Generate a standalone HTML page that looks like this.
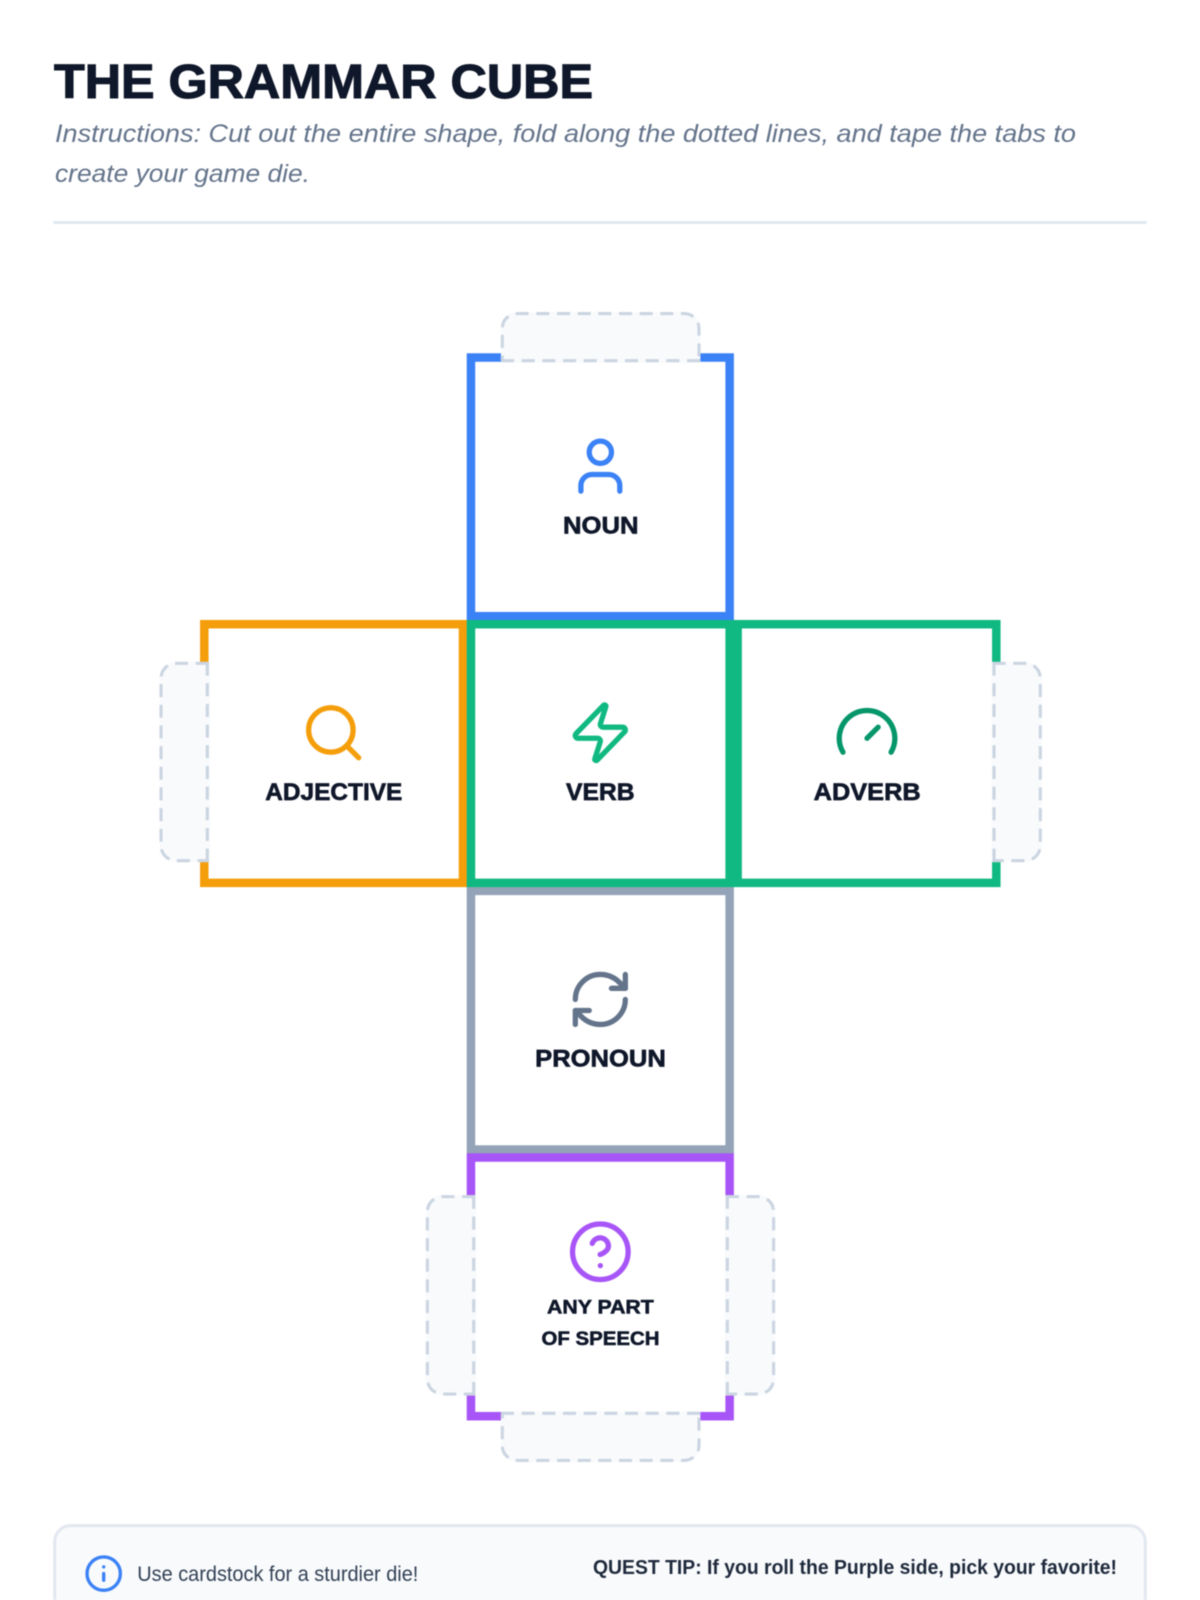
<!DOCTYPE html>
<html lang="en">
<head>
<meta charset="utf-8">
<title>The Grammar Cube</title>
<style>
html,body{margin:0;padding:0;width:1200px;height:1600px;overflow:hidden;background:#fff}
svg{display:block;filter:blur(.45px)}
text{font-family:"Liberation Sans",sans-serif}
.t{font-weight:700;fill:#0f172a;font-size:24px;stroke:#0f172a;stroke-width:.65px}
.s{font-weight:700;fill:#0f172a;font-size:19.5px;stroke:#0f172a;stroke-width:.55px}
.sub{font-style:italic;fill:#64748b;font-size:25px}
.ic{fill:none;stroke-width:1.9;stroke-linecap:round;stroke-linejoin:round}
.bg{fill:#f8fafc;stroke:#f8fafc;stroke-width:2.67}
.d{fill:none;stroke:#cbd5e1;stroke-width:3.1;stroke-dasharray:13 7.67}
</style>
</head>
<body>
<svg width="1200" height="1600" viewBox="0 0 1200 1600" xmlns="http://www.w3.org/2000/svg">
<rect width="1200" height="1600" fill="#fff"/>

<text x="54" y="98" font-size="48" font-weight="700" fill="#0f172a" stroke="#0f172a" stroke-width="1.1" textLength="539" lengthAdjust="spacingAndGlyphs">THE GRAMMAR CUBE</text>
<text class="sub" x="55" y="142" textLength="1021" lengthAdjust="spacingAndGlyphs">Instructions: Cut out the entire shape, fold along the dotted lines, and tape the tabs to</text>
<text class="sub" x="55" y="182" textLength="255" lengthAdjust="spacingAndGlyphs">create your game die.</text>
<rect x="53.33" y="221" width="1093.34" height="3" fill="#e2e8f0"/>

<!-- faces -->
<g stroke-width="8.5" fill="#fff" transform="translate(.3,.2)">
<rect x="470.67" y="357.33" width="258.67" height="258.67" stroke="#3b82f6"/>
<rect x="204" y="624" width="258.67" height="258.67" stroke="#f59e0b"/>
<rect x="470.67" y="890.67" width="258.67" height="258.67" stroke="#94a3b8"/>
<rect x="470.67" y="624" width="258.67" height="258.67" stroke="#10b981"/>
<rect x="737.33" y="624" width="258.67" height="258.67" stroke="#10b981"/>
<rect x="470.67" y="1157.33" width="258.67" height="258.67" stroke="#a855f7"/>
</g>

<!-- top tab -->
<g>
<path class="bg" d="M502.3 361.3 V328.3 A14.7 14.7 0 0 1 517 313.6 H684.3 A14.7 14.7 0 0 1 699 328.3 V361.3 Z"/>
<path class="d" style="stroke-dashoffset:-12.8" d="M502.3 360.7 V328.3 A14.7 14.7 0 0 1 517 313.6 H684.3 A14.7 14.7 0 0 1 699 328.3 V360.7"/>
<path class="d" d="M501 360.7 H700.3"/>
</g>
<!-- bottom tab -->
<g transform="translate(0,1774) scale(1,-1)">
<path class="bg" d="M502.3 361.3 V328.3 A14.7 14.7 0 0 1 517 313.6 H684.3 A14.7 14.7 0 0 1 699 328.3 V361.3 Z"/>
<path class="d" style="stroke-dashoffset:-12.8" d="M502.3 360.7 V328.3 A14.7 14.7 0 0 1 517 313.6 H684.3 A14.7 14.7 0 0 1 699 328.3 V360.7"/>
<path class="d" d="M501 360.7 H700.3"/>
</g>
<!-- side tabs -->
<g>
<path class="bg" d="M208.7 663.3 H176 A15 15 0 0 0 161 678.3 V845.7 A15 15 0 0 0 176 860.7 H208.7 Z"/>
<path class="d" d="M208.7 663.3 H176 A15 15 0 0 0 161 678.3 V845.7 A15 15 0 0 0 176 860.7 H208.7"/>
<path class="d" d="M207.3 662.6 V861.5"/>
</g>
<g transform="translate(1201.3,0) scale(-1,1)">
<path class="bg" d="M208.7 663.3 H176 A15 15 0 0 0 161 678.3 V845.7 A15 15 0 0 0 176 860.7 H208.7 Z"/>
<path class="d" d="M208.7 663.3 H176 A15 15 0 0 0 161 678.3 V845.7 A15 15 0 0 0 176 860.7 H208.7"/>
<path class="d" d="M207.3 662.6 V861.5"/>
</g>
<g transform="translate(266.37,533.33)">
<path class="bg" d="M208.7 663.3 H176 A15 15 0 0 0 161 678.3 V845.7 A15 15 0 0 0 176 860.7 H208.7 Z"/>
<path class="d" d="M208.7 663.3 H176 A15 15 0 0 0 161 678.3 V845.7 A15 15 0 0 0 176 860.7 H208.7"/>
<path class="d" d="M207.3 662.6 V861.5"/>
</g>
<g transform="translate(934.63,533.33) scale(-1,1)">
<path class="bg" d="M208.7 663.3 H176 A15 15 0 0 0 161 678.3 V845.7 A15 15 0 0 0 176 860.7 H208.7 Z"/>
<path class="d" d="M208.7 663.3 H176 A15 15 0 0 0 161 678.3 V845.7 A15 15 0 0 0 176 860.7 H208.7"/>
<path class="d" d="M207.3 662.6 V861.5"/>
</g>

<!-- icons -->
<g class="ic" stroke="#3b82f6" transform="translate(567,432.8) scale(2.778)">
<path d="M19 21v-2a4 4 0 0 0-4-4H9a4 4 0 0 0-4 4v2"/><circle cx="12" cy="7" r="4"/>
</g>
<g class="ic" stroke="#f59e0b" transform="translate(300.3,699.4) scale(2.778)">
<circle cx="11" cy="11" r="8"/><path d="m21 21-4.3-4.3"/>
</g>
<g class="ic" stroke="#10b981" transform="translate(567,699.4) scale(2.778)">
<path d="M4 14a1 1 0 0 1-.78-1.63l9.9-10.2a.5.5 0 0 1 .86.46l-1.92 6.02A1 1 0 0 0 13 10h7a1 1 0 0 1 .78 1.63l-9.9 10.2a.5.5 0 0 1-.86-.46l1.92-6.02A1 1 0 0 0 11 14z"/>
</g>
<g class="ic" stroke="#059669" transform="translate(833.7,699.4) scale(2.778)">
<path d="m12 14 4-4"/><path d="M3.34 19a10 10 0 1 1 17.32 0"/>
</g>
<g class="ic" stroke="#64748b" transform="translate(567,966.1) scale(2.778)">
<path d="M3 12a9 9 0 0 1 9-9 9.75 9.75 0 0 1 6.74 2.74L21 8"/><path d="M21 3v5h-5"/><path d="M21 12a9 9 0 0 1-9 9 9.75 9.75 0 0 1-6.74-2.74L3 16"/><path d="M8 16H3v5"/>
</g>
<g class="ic" stroke="#a855f7" transform="translate(567,1218.4) scale(2.778)">
<circle cx="12" cy="12" r="10"/><path d="M9.09 9a3 3 0 0 1 5.83 1c0 2-3 3-3 3"/><path d="M12 17h.01"/>
</g>

<!-- labels -->
<text class="t" x="563" y="533.3" textLength="75.5" lengthAdjust="spacingAndGlyphs">NOUN</text>
<text class="t" x="265.3" y="800" textLength="137" lengthAdjust="spacingAndGlyphs">ADJECTIVE</text>
<text class="t" x="566" y="800" textLength="68.6" lengthAdjust="spacingAndGlyphs">VERB</text>
<text class="t" x="813.7" y="800" textLength="107" lengthAdjust="spacingAndGlyphs">ADVERB</text>
<text class="t" x="535.2" y="1066.7" textLength="130.6" lengthAdjust="spacingAndGlyphs">PRONOUN</text>
<text class="s" x="547" y="1313.5" textLength="106.8" lengthAdjust="spacingAndGlyphs">ANY PART</text>
<text class="s" x="541.5" y="1345.2" textLength="118" lengthAdjust="spacingAndGlyphs">OF SPEECH</text>

<!-- footer -->
<rect x="54.67" y="1525.6" width="1090.67" height="120" rx="16" ry="16" fill="#f8fafc" stroke="#e2e8f0" stroke-width="3"/>
<g fill="none" stroke="#3b82f6" stroke-width="2" stroke-linecap="round" stroke-linejoin="round" transform="translate(83.7,1553.6) scale(1.667)">
<circle cx="12" cy="12" r="10"/><path d="M12 16v-4"/><path d="M12 8h.01"/>
</g>
<text x="137.3" y="1581" font-size="21" fill="#334155" textLength="281" lengthAdjust="spacingAndGlyphs">Use cardstock for a sturdier die!</text>
<text x="593" y="1574" font-size="20" font-weight="700" fill="#1e293b" textLength="524" lengthAdjust="spacingAndGlyphs">QUEST TIP: If you roll the Purple side, pick your favorite!</text>
</svg>
</body>
</html>
